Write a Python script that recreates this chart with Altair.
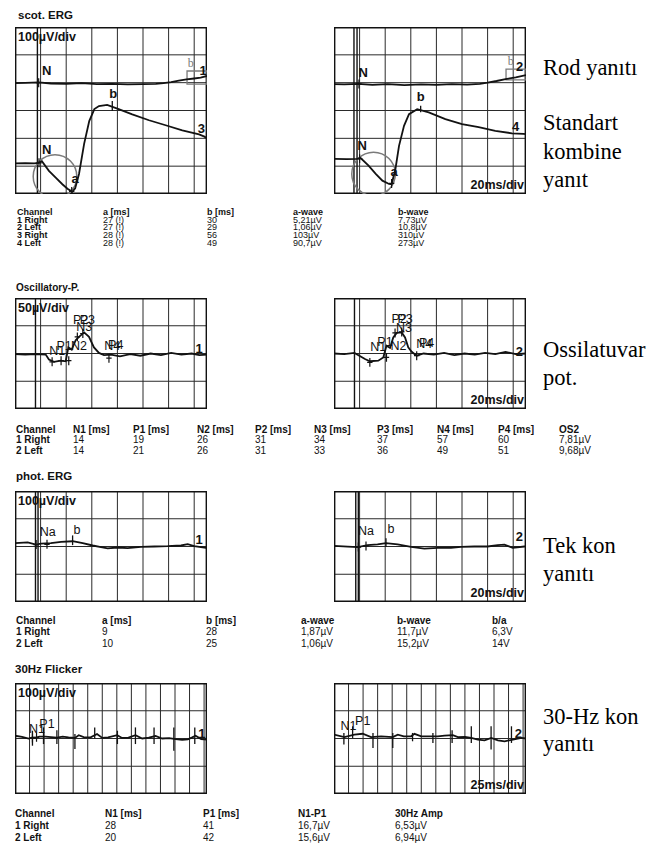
import altair as alt
import pandas as pd

SANS = "Liberation Sans"
SERIF = "Liberation Serif"
INK = "#121212"
GRID = "#2a2a2a"
GRAY = "#7a7a7a"

# ======================= 1. scot. ERG  (x: ms on screen, 20 ms/div; y: uV, 100 uV/div)
scot_L1_t = [0, 8, 18.5, 28, 40, 52, 64, 76, 88, 100, 110, 116, 122, 128, 134, 140, 145, 150]
scot_L1_v = [398, 399, 401, 397, 396, 398, 395, 396, 394, 395, 396, 398, 402, 407, 412, 415, 418, 424]
scot_L3_t = [0, 8, 15, 18.5, 21, 26.5, 31.8, 37, 41, 44.8, 47, 50, 54, 58, 62, 65.6, 72, 81, 91.6, 104.7, 117.7, 130.7, 143.8, 148, 150]
scot_L3_v = [110, 111, 110, 112, 118, 83, 59, 35, 19, 8, 20, 72, 180, 262, 305, 316, 320, 305, 286, 265, 247, 229, 214, 206, 200]
scot_R2_t = [0, 8, 19, 30, 42, 55, 68, 80, 92, 104, 114, 120, 127, 134, 142, 150]
scot_R2_v = [395, 394, 396, 392, 395, 391, 394, 392, 395, 393, 396, 400, 406, 413, 419, 427]
scot_R4_t = [0, 10, 18, 20.8, 27, 32.6, 37.8, 43, 45, 48, 50.8, 54.7, 58.6, 65, 74, 87, 100, 113, 126, 139, 148, 150]
scot_R4_v = [126, 125, 126, 129, 102, 72, 48, 36, 35, 90, 173, 245, 287, 305, 293, 269, 251, 240, 227, 218, 216, 215]

# ======================= 2. Oscillatory potentials (20 ms/div; 50 uV/div)
osc_L_t = [0, 8, 16, 24, 26.5, 30.5, 35.7, 39.6, 41.7, 44.3, 47.4, 50, 54, 57.8, 61.7, 65.6, 69.5, 75, 82, 90, 98, 106, 114, 122, 130, 138, 144, 150]
osc_L_v = [-1, -2, -1, -2, -11, -15, -13, -14, 11, 7, 24, 30, 38, 30, 11, 1, -3, -2, -5, -1, -4, 0, -3, 1, -2, 0, -3, -2]
osc_R_t = [0, 8, 16, 24.2, 28, 34.6, 38.5, 41, 43.75, 46.3, 49, 52.9, 55.5, 58, 60.7, 64.6, 70, 78, 86, 94, 102, 110, 118, 126, 134, 142, 150]
osc_R_v = [0, -1, 1, -10, -14, -13, -7, 14, 10, 29, 37, 38, 29, 11, 3, -4, 0, -2, 1, -3, 0, -2, 1, -1, 3, -1, 0]

# ======================= 3. phot. ERG (20 ms/div; 100 uV/div)
phot_L_t = [0, 9.9, 16.4, 20.3, 28, 36, 45, 52.9, 60.7, 67.2, 72.4, 80.2, 88, 98.4, 108.9, 119.3, 129.7, 134.9, 140, 149.2, 150]
phot_L_v = [12, 14.5, 7, 10, 12, 17, 19, 12, 3.6, -2.4, -7, -3.6, -6, -1, 0, 1, 3.6, 8.5, 1, -5, -5]
phot_R_t = [0, 10.7, 18.5, 26.3, 34, 40.6, 49.7, 60.2, 70.6, 81, 91.4, 99.2, 109.6, 120, 127.9, 133.1, 139.6, 148.7, 150]
phot_R_v = [2, -0.5, -2, 5, 8, 12, 8, -1.5, -7.5, -5, -5, -1.5, 0, 0, 5, 7, -5, 0, 0]

# ======================= 4. 30 Hz flicker (25 ms/div; 100 uV/div)
flk_L_t = [0, 12, 23.5, 30, 35, 42, 52, 62, 72, 82, 92, 103, 109.6, 118, 130, 141, 150, 160, 175.6, 184, 195, 207, 218.6, 230, 241.5, 253, 265, 276, 287.4, 297, 304.6, 310.4, 320, 330]
flk_L_v = [10, 6, 0, 4, 2, 7, 7, 5, 3, 7, 4, 2, 12, 5, 4, 16, 2, 4, 12, 2, 3, 12, 0, 3, 9, 0, 1, -2, -5, -3, 4, 10, -2, -4]
flk_R_t = [0, 17.8, 35, 49.3, 63.7, 80.9, 101, 109.6, 120, 132.5, 138.3, 150, 167, 178.5, 190, 204.3, 212.9, 225, 235.8, 247.3, 258.8, 270.3, 281.8, 293.2, 307.6, 322, 330]
flk_R_v = [14, 5, 14, 17, 5, 8, 5, 14, 8, 8, 17, 8, 8, 8, 10, 12, 5, 6, 2, -4, -7, 2, -7, -10, -4, 2, 0]
flk_L_tick_t = [30, 49, 72, 103, 137, 176, 207, 239, 273, 309]
flk_L_tick_lo = [-26, -20, -20, -38, 0, -20, -20, -20, -44, -20]
flk_L_tick_hi = [28, 40, 30, 16, 40, 28, 40, 40, 40, 40]
flk_R_tick_t = [17, 32, 67, 101, 135, 170, 203, 236, 270, 305]
flk_R_tick_lo = [-22, 2, -34, -34, -10, -16, -16, -16, -40, -16]
flk_R_tick_hi = [20, 44, 20, 20, 20, 20, 30, 44, 44, 44]

# ======================= tables
t1_head = ["Channel", "a [ms]", "b [ms]", "a-wave", "b-wave"]
t1_chan = ["1 Right", "2 Left", "3 Right", "4 Left"]
t1_a = ["27 (!)", "27 (!)", "28 (!)", "28 (!)"]
t1_b = ["30", "29", "56", "49"]
t1_aw = ["5,21µV", "1,06µV", "103µV", "90,7µV"]
t1_bw = ["7,73µV", "10,8µV", "310µV", "273µV"]

t2_head = ["Channel", "N1 [ms]", "P1 [ms]", "N2 [ms]", "P2 [ms]", "N3 [ms]", "P3 [ms]", "N4 [ms]", "P4 [ms]", "OS2"]
t2_chan = ["1 Right", "2 Left"]
t2_N1 = ["14", "14"]
t2_P1 = ["19", "21"]
t2_N2 = ["26", "26"]
t2_P2 = ["31", "31"]
t2_N3 = ["34", "33"]
t2_P3 = ["37", "36"]
t2_N4 = ["57", "49"]
t2_P4 = ["60", "51"]
t2_os = ["7,81µV", "9,68µV"]

t3_head = ["Channel", "a [ms]", "b [ms]", "a-wave", "b-wave", "b/a"]
t3_chan = ["1 Right", "2 Left"]
t3_a = ["9", "10"]
t3_b = ["28", "25"]
t3_aw = ["1,87µV", "1,06µV"]
t3_bw = ["11,7µV", "15,2µV"]
t3_ba = ["6,3V", "14V"]

t4_head = ["Channel", "N1 [ms]", "P1 [ms]", "N1-P1", "30Hz Amp"]
t4_chan = ["1 Right", "2 Left"]
t4_N1 = ["28", "20"]
t4_P1 = ["41", "42"]
t4_np = ["16,7µV", "15,6µV"]
t4_amp = ["6,53µV", "6,94µV"]

CROSS = "M-0.6,0L0.6,0M0,-1L0,1"


def panel(w, h, xdom, ydom, xstep, ystep, traces, triggers=(), labels=None,
          lab_size=12.5, lab_weight="bold", nums=None, crosses=None, ticks=None,
          box=None, boxlab=None, circle=None, tl=None, br=None):
    xs = alt.Scale(domain=xdom, nice=False, zero=False)
    ys = alt.Scale(domain=ydom, nice=False, zero=False)

    def X(f):
        return alt.X(f, type="quantitative", scale=xs, axis=None)

    def Y(f):
        return alt.Y(f, type="quantitative", scale=ys, axis=None)

    xgrid = []
    g = xdom[0] + xstep
    while g < xdom[1] - 0.01:
        xgrid.append(g)
        g += xstep
    ygrid = []
    g = ydom[0] + ystep
    while g < ydom[1] - 0.01:
        ygrid.append(g)
        g += ystep

    L = []
    L.append(alt.Chart(pd.DataFrame({"g": xgrid})).mark_rule(color=GRID, strokeWidth=1.0, clip=True).encode(x=X("g")))
    L.append(alt.Chart(pd.DataFrame({"g": ygrid})).mark_rule(color=GRID, strokeWidth=1.0, clip=True).encode(y=Y("g")))
    L.append(alt.Chart(pd.DataFrame({"g": list(xdom)})).mark_rule(color=INK, strokeWidth=2.8, clip=True).encode(x=X("g")))
    L.append(alt.Chart(pd.DataFrame({"g": list(ydom)})).mark_rule(color=INK, strokeWidth=2.8, clip=True).encode(y=Y("g")))
    if triggers:
        L.append(alt.Chart(pd.DataFrame({"g": list(triggers)})).mark_rule(color=INK, strokeWidth=1.4, clip=True).encode(x=X("g")))
    if ticks:
        L.append(alt.Chart(pd.DataFrame({"t": ticks[0], "lo": ticks[1], "hi": ticks[2]}))
                 .mark_rule(color=INK, strokeWidth=1.3, clip=True)
                 .encode(x=X("t"), y=Y("lo"), y2=alt.Y2("hi")))
    if box:
        L.append(alt.Chart(pd.DataFrame({"x0": [box[0]], "x1": [box[1]], "y0": [box[2]], "y1": [box[3]]}))
                 .mark_rect(fill="transparent", stroke=GRAY, strokeWidth=1.3, clip=True)
                 .encode(x=X("x0"), x2=alt.X2("x1"), y=Y("y0"), y2=alt.Y2("y1")))
    if circle:
        L.append(alt.Chart(pd.DataFrame({"t": [circle[0]], "v": [circle[1]]}))
                 .mark_point(shape="circle", filled=False, size=1900, color=GRAY, strokeWidth=1.5, opacity=1, clip=True)
                 .encode(x=X("t"), y=Y("v")))
    frames = []
    for k, (tt, vv) in enumerate(traces):
        frames.append(pd.DataFrame({"t": tt, "v": vv, "ch": k, "i": range(len(tt))}))
    L.append(alt.Chart(pd.concat(frames, ignore_index=True))
             .mark_line(color=INK, strokeWidth=1.8, clip=True)
             .encode(x=X("t"), y=Y("v"), detail="ch:N", order="i:Q"))
    if crosses:
        L.append(alt.Chart(pd.DataFrame({"t": crosses[0], "v": crosses[1]}))
                 .mark_point(shape=CROSS, filled=False, size=80, color=INK, strokeWidth=1.2, opacity=1, clip=True)
                 .encode(x=X("t"), y=Y("v")))
    if labels:
        L.append(alt.Chart(pd.DataFrame({"s": labels[0], "t": labels[1], "v": labels[2]}))
                 .mark_text(font=SANS, fontSize=lab_size, fontWeight=lab_weight, color=INK,
                            align="center", baseline="middle")
                 .encode(x=X("t"), y=Y("v"), text="s:N"))
    if nums:
        L.append(alt.Chart(pd.DataFrame({"s": nums[0], "t": nums[1], "v": nums[2]}))
                 .mark_text(font=SANS, fontSize=13, fontWeight="bold", color=INK,
                            align="center", baseline="middle")
                 .encode(x=X("t"), y=Y("v"), text="s:N"))
    if boxlab:
        L.append(alt.Chart(pd.DataFrame({"s": ["b"], "t": [boxlab[0]], "v": [boxlab[1]]}))
                 .mark_text(font=SERIF, fontSize=12, color=GRAY, align="center", baseline="middle")
                 .encode(x=X("t"), y=Y("v"), text="s:N"))
    if tl:
        L.append(alt.Chart(pd.DataFrame({"s": [tl]}))
                 .mark_text(font=SANS, fontSize=12.5, fontWeight="bold", color=INK,
                            align="left", baseline="top")
                 .encode(x=alt.value(3), y=alt.value(4), text="s:N"))
    if br:
        L.append(alt.Chart(pd.DataFrame({"s": [br]}))
                 .mark_text(font=SANS, fontSize=12.5, fontWeight="bold", color=INK,
                            align="right", baseline="bottom")
                 .encode(x=alt.value(w - 2), y=alt.value(h - 2), text="s:N"))
    return alt.layer(*L).properties(width=w, height=h)


def side_labels(h, lines, ys):
    d = pd.DataFrame({"s": lines, "y": ys})
    return (alt.Chart(d)
            .mark_text(font=SERIF, fontSize=22.5, color="#000000", align="left", baseline="alphabetic")
            .encode(x=alt.value(0),
                    y=alt.Y("y:Q", scale=alt.Scale(domain=[0, h], range=[0, h], nice=False, zero=False), axis=None),
                    text="s:N")
            .properties(width=114, height=h))


def title_row(h, text, x, base, size):
    return (alt.Chart(pd.DataFrame({"s": [text]}))
            .mark_text(font=SANS, fontSize=size, fontWeight="bold", color=INK, align="left", baseline="alphabetic")
            .encode(x=alt.value(x), y=alt.value(base), text="s:N")
            .properties(width=642, height=h))


def table(h, cols_x, base, step, header, columns, size=10):
    recs = []
    for j, name in enumerate(header):
        recs.append({"x": cols_x[j], "r": 0, "s": name, "b": 1})
    nrows = len(columns[0])
    for i in range(nrows):
        for j, col in enumerate(columns):
            recs.append({"x": cols_x[j], "r": i + 1, "s": col[i], "b": 1 if j == 0 else 0})
    d = pd.DataFrame(recs)
    enc = dict(
        x=alt.X("x:Q", scale=alt.Scale(domain=[0, 642], range=[0, 642], nice=False, zero=False), axis=None),
        y=alt.Y("r:Q", scale=alt.Scale(domain=[0, 1], range=[base, base + step], nice=False, zero=False), axis=None),
        text="s:N",
    )
    bold = (alt.Chart(d).transform_filter("datum.b == 1")
            .mark_text(font=SANS, fontSize=size, fontWeight="bold", color=INK, align="left", baseline="alphabetic")
            .encode(**enc))
    norm = (alt.Chart(d).transform_filter("datum.b == 0")
            .mark_text(font=SANS, fontSize=size, color=INK, align="left", baseline="alphabetic")
            .encode(**enc))
    return alt.layer(bold, norm).properties(width=642, height=h)


def panel_row(left, right, labels):
    inner = alt.hconcat(left, right, spacing=127)
    return alt.hconcat(inner, labels, spacing=17)


# ---------------- section 1
p1L = panel(192, 167, [0, 150], [0, 600], 20, 100,
            [(scot_L1_t, scot_L1_v), (scot_L3_t, scot_L3_v)], triggers=[17.5],
            labels=(["N", "N", "b", "a"], [24.8, 24.8, 76.8, 46.9], [442, 157, 360, 53]),
            lab_size=13,
            nums=(["1", "3"], [146.9, 145.6], [442, 235]),
            crosses=([18.5, 18.75, 44.3], [400, 112, 9]),
            ticks=([76], [298], [334]),
            box=(134.4, 150, 395, 442), boxlab=(137.3, 472), circle=(31.25, 63), tl="100µV/div")
p1R = panel(192, 167, [0, 150], [0, 600], 20, 100,
            [(scot_R2_t, scot_R2_v), (scot_R4_t, scot_R4_v)], triggers=[15.6, 18],
            labels=(["N", "N", "b", "a"], [22.9, 22.1, 67.7, 46.9], [435, 174, 350, 78]),
            lab_size=13,
            nums=(["2", "4"], [145, 141.9], [455, 242]),
            crosses=([19.5, 20, 45], [395, 127, 38]),
            ticks=([67.7], [294], [317]),
            box=(134.4, 150, 410, 449), boxlab=(138, 479), circle=(30.9, 72), br="20ms/div")
s1 = side_labels(167, ["Rod yanıtı", "Standart", "kombine", "yanıt"], [48, 103, 131.5, 160])

# ---------------- section 2
p2L = panel(192, 111, [0, 150], [-100, 100], 20, 50, [(osc_L_t, osc_L_v)], triggers=[16],
            labels=(["N1", "P1", "N2", "P2", "P3", "N3", "N4", "P4"],
                    [33, 38.3, 50, 51.3, 56.5, 54, 76, 78.7], [5, 13, 13, 60, 60, 48, 14, 16]),
            lab_size=12.5, lab_weight="normal",
            nums=(["1"], [143.75], [8]),
            crosses=([29, 36, 42, 48.7, 53, 73.4], [-15, -13, -13, 30, 36, -8.5]), tl="50µV/div")
p2R = panel(192, 111, [0, 150], [-100, 100], 20, 50, [(osc_R_t, osc_R_v)], triggers=[16],
            labels=(["N1", "P1", "N2", "P2", "P3", "N3", "N4", "P4"],
                    [34.6, 39.8, 50.3, 50.8, 55.5, 54.7, 70.5, 72.4], [12.4, 20, 14, 63, 63, 46, 17, 18.5]),
            lab_size=12.5, lab_weight="normal",
            nums=(["2"], [144.8], [2]),
            crosses=([28, 41, 47.7, 52.9, 64.6], [-16, -7, 37, 38.8, -4]), br="20ms/div")
s2 = side_labels(111, ["Ossilatuvar", "pot."], [58.7, 87])

# ---------------- section 3
p3L = panel(192, 111, [0, 150], [-200, 200], 20, 100, [(phot_L_t, phot_L_v)], triggers=[16, 18],
            labels=(["Na", "b"], [25.5, 48.4], [52, 60]), lab_size=12.5, lab_weight="normal",
            nums=(["1"], [143.75], [22]),
            crosses=([16.5, 25], [7, 8]), ticks=([45], [5], [40]), tl="100µV/div")
p3R = panel(192, 111, [0, 150], [-200, 200], 20, 100, [(phot_R_t, phot_R_v)], triggers=[17, 19],
            labels=(["Na", "b"], [25, 44.5], [57, 63]), lab_size=12.5, lab_weight="normal",
            nums=(["2"], [144.8], [33]),
            crosses=([19, 25], [-2, 2]), ticks=([40.6], [-2], [30]), br="20ms/div")
s3 = side_labels(111, ["Tek kon", "yanıtı"], [61.7, 89.7])

# ---------------- section 4
p4L = panel(192, 111, [0, 330], [-200, 200], 25, 100, [(flk_L_t, flk_L_v)],
            labels=(["N1", "P1"], [37.9, 55], [34, 54]), lab_size=12.5, lab_weight="normal",
            nums=(["1"], [321], [16]),
            crosses=([30, 37], [2, 4]),
            ticks=(flk_L_tick_t, flk_L_tick_lo, flk_L_tick_hi), tl="100µV/div")
p4R = panel(192, 111, [0, 330], [-200, 200], 25, 100, [(flk_R_t, flk_R_v)],
            labels=(["N1", "P1"], [24.7, 49.4], [44, 62]), lab_size=12.5, lab_weight="normal",
            nums=(["2"], [317], [18]),
            ticks=(flk_R_tick_t, flk_R_tick_lo, flk_R_tick_hi), br="25ms/div")
s4 = side_labels(111, ["30-Hz kon", "yanıtı"], [40.5, 67.5])

rows = [
    title_row(19, "scot. ERG", 3, 10.5, 11.5),
    panel_row(p1L, p1R, s1),
    table(88, [2, 88, 192, 278, 383], 20.8, 7.7, t1_head, [t1_chan, t1_a, t1_b, t1_aw, t1_bw], size=9),
    title_row(16, "Oscillatory-P.", 1, 8.5, 10),
    panel_row(p2L, p2R, s2),
    table(57, [1, 58, 118, 182, 240, 299, 362, 422, 483, 544], 23.5, 10.75, t2_head,
          [t2_chan, t2_N1, t2_P1, t2_N2, t2_P2, t2_N3, t2_P3, t2_N4, t2_P4, t2_os]),
    title_row(25, "phot. ERG", 1, 13.5, 11.5),
    panel_row(p3L, p3R, s3),
    table(56, [1, 87, 191, 286, 382, 477], 21.5, 11.5, t3_head, [t3_chan, t3_a, t3_b, t3_aw, t3_bw, t3_ba]),
    title_row(24.5, "30Hz Flicker", 0, 15, 11.5),
    panel_row(p4L, p4R, s4),
    table(50, [0, 90, 188, 283, 380], 22.5, 12, t4_head, [t4_chan, t4_N1, t4_P1, t4_np, t4_amp]),
]

chart = (alt.vconcat(*rows, spacing=0)
         .properties(padding={"left": 7, "top": 0, "right": 0, "bottom": 0})
         .configure_view(stroke=None))

chart.save("out.html", embed_options={"renderer": "svg", "actions": False})
